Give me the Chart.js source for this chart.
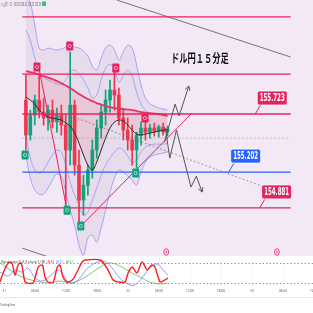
<!DOCTYPE html>
<html>
<head>
<meta charset="utf-8">
<script src="https://cdn.jsdelivr.net/npm/chart.js@4.4.1/dist/chart.umd.min.js"></script>
<style>
html, body { margin: 0; padding: 0; width: 313px; height: 313px; overflow: hidden; background: #fff; }
canvas { position: absolute; left: 0; }
#main { top: 0; }
#osc { top: 256px; }
</style>
</head>
<body>
<canvas id="main" width="313" height="256"></canvas>
<canvas id="osc" width="313" height="57"></canvas>
<script>
// hourly candles, hour 0 = day 21 00:00
var candleHours = [0,1,2,3,4,5,6,7,8,9,10,11,12,13,14,15,16,17,18,19,20,21,22,23,24,25,26,27,28,29,30,31,32];
var openP  = [155.848,155.534,155.713,155.848,155.740,155.687,155.758,155.651,155.713,155.624,155.400,155.803,155.265,154.951,155.085,155.220,155.400,155.597,155.740,155.848,155.938,155.893,155.687,155.579,155.489,155.400,155.534,155.597,155.561,155.597,155.570,155.606,155.561];
var highP  = [156.072,155.758,155.893,156.072,155.866,155.803,155.848,155.776,155.803,155.713,156.279,155.848,155.400,155.175,155.265,155.489,155.669,155.803,155.938,156.027,156.099,155.956,155.776,155.687,155.624,155.561,155.651,155.669,155.633,155.642,155.624,155.642,155.615];
var lowP   = [155.400,155.489,155.624,155.687,155.624,155.579,155.597,155.561,155.534,154.888,155.265,155.175,154.754,154.816,154.996,155.148,155.328,155.507,155.624,155.740,155.758,155.624,155.489,155.400,155.265,155.238,155.444,155.489,155.507,155.525,155.516,155.534,155.525];
var closeP = [155.534,155.713,155.848,155.740,155.687,155.758,155.651,155.713,155.624,155.400,155.803,155.265,154.951,155.085,155.220,155.400,155.597,155.740,155.848,155.938,155.893,155.687,155.579,155.489,155.400,155.534,155.597,155.561,155.597,155.570,155.606,155.561,155.588];

// bands and moving averages (same hours as candles)
var bandU2 = [156.790,156.718,156.521,156.314,156.297,156.314,156.305,156.297,156.305,156.323,156.341,156.323,156.314,156.288,156.243,156.153,156.117,156.225,156.314,156.341,156.297,156.207,156.279,156.341,156.314,156.162,155.983,155.866,155.812,155.794,155.776,155.767,155.758];
var bandU1 = [156.476,156.386,156.225,156.099,156.045,156.027,156.009,155.992,155.992,156.027,156.099,156.117,156.081,156.027,155.956,155.866,155.893,156.027,156.135,156.171,156.117,156.009,156.063,156.117,156.063,155.920,155.812,155.758,155.731,155.723,155.723,155.723,155.713];
var bandL1 = [155.534,155.328,155.220,155.193,155.220,155.292,155.355,155.400,155.382,155.265,155.112,154.996,154.906,154.816,154.843,154.951,155.059,155.175,155.265,155.328,155.382,155.417,155.400,155.346,155.292,155.310,155.382,155.426,155.444,155.453,155.453,155.453,155.462];
var bandL2 = [155.355,155.148,155.041,155.005,155.005,155.059,155.131,155.184,155.166,155.023,154.861,154.727,154.547,154.458,154.610,154.637,154.574,154.700,154.861,155.023,155.148,155.220,155.202,155.166,155.131,155.085,155.202,155.292,155.337,155.355,155.364,155.373,155.382];
var maBlack = [155.875,155.848,155.812,155.758,155.723,155.696,155.687,155.678,155.669,155.642,155.615,155.552,155.462,155.355,155.265,155.220,155.292,155.400,155.507,155.597,155.651,155.669,155.660,155.624,155.579,155.543,155.534,155.543,155.552,155.561,155.570,155.579,155.579];
var maRed = [156.108,156.099,156.090,156.077,156.063,156.050,156.036,156.018,156.000,155.978,155.956,155.929,155.902,155.879,155.857,155.839,155.821,155.808,155.794,155.785,155.776,155.772,155.767,155.763,155.758,155.749,155.740,155.736,155.731,155.727,155.723,155.713,155.705];

// drawings
var pinkLevels = [156.593, 156.081, 155.723, 154.881];
var blueLevel = 155.202;
var dottedLevel = 155.507;
var trendAHours = [12.4, 37.5], trendAPrices = [154.718, 155.731];
var trendBHours = [2.9, 9.3], trendBPrices = [156.144, 154.861];
var greyTopHours = [20.5, 59.8], greyTopPrices = [156.745, 156.234];
var greyLowHours = [-0.8, 5.0], greyLowPrices = [154.520, 154.443];
var greyDotHours = [10.8, 59.8], greyDotPrices = [155.696, 154.982];
var arrowUpHours = [31.3, 33.7, 34.6, 36.8], arrowUpPrices = [155.471, 155.812, 155.705, 155.974];
var arrowDownHours = [31.5, 32.5, 34.0, 37.3, 38.5, 39.8], arrowDownPrices = [155.597, 155.328, 155.579, 155.068, 155.166, 155.023];
var sellMarkHours = [2.5, 9.9, 20.3, 26.9], sellMarkPrices = [156.144, 156.332, 156.135, 155.687];
var buyMarkHours = [-0.2, 9.3, 12.4, 24.8], buyMarkPrices = [155.355, 154.861, 154.718, 155.193];
var labelTexts = ['155.723', '155.202', '154.881'];
var labelPrices = [155.723, 155.202, 154.881];
var labelHours = [51.8, 45.8, 52.8];
var titleText = 'ドル円１５分足', titleHour = 39.3, titlePrice = 156.225;
var eventHours = [31.7, 56.7];

// oscillator
var oscRedHours = [-0.8,-0.2,0.8,1.5,2.1,2.7,3.3,3.7,4.1,5.6,6.6,7.4,7.9,8.5,9.5,10.3,10.8,11.4,12.2,13.2,14.1,15.1,15.7,18.6,19.9,21.1,22.1,23.4,24.0,24.8,25.7,26.7,27.7,28.6,29.2,30.2,31.1,31.7];
var oscRed = [23,50,80,80,44,74,80,50,23,20,68,74,38,23,23,68,74,38,23,29,53,83,89,89,65,29,23,23,50,68,50,83,59,74,68,23,29,35];
var oscBlueHours = [-0.8,0.8,2.1,3.5,4.6,6.0,7.4,8.9,10.4,11.4,12.8,14.3,16.2,18.2,19.7,20.9,22.4,24.0,25.3,26.7,28.2,29.6,30.8,31.7];
var oscBlue = [53,41,59,53,65,35,26,41,59,44,20,29,65,83,83,65,35,17,14,35,65,77,59,44];
var oscGreenHours = [-0.8,1.2,3.1,6.0,8.9,10.8,12.8,14.7,16.6,18.6,20.5,22.4,24.4,26.3,28.2,30.2,31.7];
var oscGreen = [80,59,41,26,20,26,20,29,47,68,80,71,53,38,23,17,20];
var oscLevels = [80, 20];

var tickHours = [0,6,12,18,24,30,36,42,48,54,60];
var tickLabels = ['21','06:00','12:00','18:00','22','06:00','12:00','18:00','23','06:00','12:00'];

var GREEN = '#11a17b', RED = '#f0364f', PINK = '#e4245f', BLUE = '#2962ff';

var pts = function(hs, vs) {
	return hs.map(function(h, i) { return {x: h, y: vs[i]}; });
};
var flat = function(v) {
	return [{x: -0.8, y: v}, {x: 59.8, y: v}];
};
var lineDs = function(data, color, width, order, extra) {
	var ds = {type: 'line', data: data, borderColor: color, borderWidth: width, pointRadius: 0, tension: 0, fill: false, order: order};
	for (var k in extra) ds[k] = extra[k];
	return ds;
};

var fitText = function(c, text, x, y, w, font, color, align) {
	c.save();
	c.font = font;
	var m = c.measureText(text).width;
	c.translate(x, y);
	c.scale(w / m, 1);
	c.fillStyle = color;
	c.textAlign = align || 'center';
	c.textBaseline = 'middle';
	c.fillText(text, 0, 0);
	c.restore();
};

var box = function(c, x, y, w, h, r) {
	c.beginPath();
	if (c.roundRect) c.roundRect(x, y, w, h, r); else c.rect(x, y, w, h);
};

var mainDraw = {
	id: 'mainDraw',
	beforeDraw: function(chart) {
		var c = chart.ctx;
		c.save();
		c.fillStyle = '#f3e8f5';
		c.fillRect(0, 0, chart.width, chart.height);
		c.restore();
	},
	afterDatasetsDraw: function(chart) {
		var c = chart.ctx, xs = chart.scales.x, ys = chart.scales.y;
		c.save();
		// arrow heads
		[[arrowUpHours, arrowUpPrices], [arrowDownHours, arrowDownPrices]].forEach(function(a) {
			var n = a[0].length;
			var x1 = xs.getPixelForValue(a[0][n - 2]), y1 = ys.getPixelForValue(a[1][n - 2]);
			var x2 = xs.getPixelForValue(a[0][n - 1]), y2 = ys.getPixelForValue(a[1][n - 1]);
			var ang = Math.atan2(y2 - y1, x2 - x1);
			c.strokeStyle = '#555';
			c.lineWidth = 1;
			c.beginPath();
			c.moveTo(x2 - 5 * Math.cos(ang - 0.5), y2 - 5 * Math.sin(ang - 0.5));
			c.lineTo(x2, y2);
			c.lineTo(x2 - 5 * Math.cos(ang + 0.5), y2 - 5 * Math.sin(ang + 0.5));
			c.stroke();
		});
		// signal markers
		var mark = function(hs, ps, color) {
			hs.forEach(function(h, i) {
				var px = xs.getPixelForValue(h), py = ys.getPixelForValue(ps[i]);
				c.fillStyle = color;
				box(c, px - 3.5, py - 4.5, 7, 9, 1);
				c.fill();
				c.strokeStyle = 'rgba(255,255,255,0.8)';
				c.lineWidth = 0.7;
				c.beginPath();
				c.arc(px, py, 1.6, 0, Math.PI * 2);
				c.stroke();
			});
		};
		mark(sellMarkHours, sellMarkPrices, PINK);
		mark(buyMarkHours, buyMarkPrices, GREEN);
		// price callouts
		labelTexts.forEach(function(t, i) {
			var ax = xs.getPixelForValue(labelHours[i]), ay = ys.getPixelForValue(labelPrices[i]);
			var col = i === 1 ? BLUE : PINK;
			var bx = ax + 2, by = ay - 23;
			c.strokeStyle = col;
			c.lineWidth = 1;
			c.beginPath();
			c.moveTo(bx + 4, by + 13);
			c.lineTo(ax, ay);
			c.stroke();
			c.fillStyle = col;
			box(c, bx, by, 30, 14, 2);
			c.fill();
			c.strokeStyle = '#fff';
			c.lineWidth = 0.8;
			c.stroke();
			fitText(c, t, bx + 15, by + 7.5, 25, 'bold 10px "DejaVu Sans Condensed", "DejaVu Sans", sans-serif', '#fff');
		});
		// title
		fitText(c, titleText, xs.getPixelForValue(titleHour), ys.getPixelForValue(titlePrice), 58,
			'bold 12px "Noto Sans CJK JP", sans-serif', '#111');
		// event pins
		eventHours.forEach(function(h) {
			var px = xs.getPixelForValue(h), py = chart.chartArea.bottom - 4;
			c.strokeStyle = PINK;
			c.lineWidth = 0.8;
			c.beginPath();
			c.ellipse(px, py, 2.4, 3.3, 0, 0, Math.PI * 2);
			c.stroke();
			c.fillStyle = PINK;
			c.fillRect(px - 0.5, py - 1.2, 1, 2.4);
		});
		// header
		fitText(c, 'ドル円 · 15 · 155.59 155.61 155.52 155.58', 1, 4, 40, '5px "Noto Sans CJK JP", sans-serif', '#555', 'left');
		c.fillStyle = '#3cc46e';
		c.fillRect(42, 1.5, 4, 4.5);
		c.restore();
	}
};

var mainCfg = {
	type: 'line',
	data: {
		datasets: [
			lineDs(pts(candleHours, bandU2), 'rgba(120,120,255,0.75)', 0.8, 20, {fill: 3, backgroundColor: 'rgba(125,115,150,0.10)', tension: 0.35}),
			lineDs(pts(candleHours, bandU1), 'rgba(120,120,255,0.7)', 0.8, 19, {tension: 0.35}),
			lineDs(pts(candleHours, bandL1), 'rgba(120,120,255,0.7)', 0.8, 19, {tension: 0.35}),
			lineDs(pts(candleHours, bandL2), 'rgba(120,120,255,0.75)', 0.8, 19, {tension: 0.35}),
			lineDs(pts(candleHours, maBlack), 'rgba(0,0,0,0)', 0, 18, {fill: 5, backgroundColor: 'rgba(240,70,100,0.13)', tension: 0.35}),
			lineDs(pts(candleHours, maRed), '#e8325f', 1.8, 2, {tension: 0.35}),
			lineDs(pts(candleHours, maBlack), '#2a2a2a', 1, 3, {tension: 0.35}),
			{
				type: 'bar', order: 5, grouped: false, barThickness: 1,
				data: candleHours.map(function(h, i) { return {x: h, y: [lowP[i], highP[i]]}; }),
				backgroundColor: function(ctx) { return closeP[ctx.dataIndex] >= openP[ctx.dataIndex] ? GREEN : RED; }
			},
			{
				type: 'bar', order: 4, grouped: false, barThickness: 3,
				data: candleHours.map(function(h, i) { return {x: h, y: [openP[i], closeP[i]]}; }),
				backgroundColor: function(ctx) { return closeP[ctx.dataIndex] >= openP[ctx.dataIndex] ? GREEN : RED; }
			},
			lineDs(flat(pinkLevels[0]), PINK, 1.3, 1),
			lineDs(flat(pinkLevels[1]), PINK, 1.3, 1),
			lineDs(flat(pinkLevels[2]), PINK, 1.3, 1),
			lineDs(flat(pinkLevels[3]), PINK, 1.3, 1),
			lineDs(flat(blueLevel), BLUE, 1.3, 1),
			lineDs(flat(dottedLevel), 'rgba(120,120,120,0.5)', 0.8, 1, {borderDash: [2, 2]}),
			lineDs(pts(trendAHours, trendAPrices), PINK, 1, 1),
			lineDs(pts(trendBHours, trendBPrices), PINK, 1, 1),
			lineDs(pts(greyTopHours, greyTopPrices), '#666', 0.9, 1),
			lineDs(pts(greyLowHours, greyLowPrices), '#666', 0.9, 1),
			lineDs(pts(greyDotHours, greyDotPrices), 'rgba(90,90,90,0.7)', 0.8, 1, {borderDash: [2, 2]}),
			lineDs(pts(arrowUpHours, arrowUpPrices), '#555', 1, 0),
			lineDs(pts(arrowDownHours, arrowDownPrices), '#555', 1, 0)
		]
	},
	options: {
		responsive: false,
		animation: false,
		events: [],
		layout: {padding: 0},
		plugins: {legend: {display: false}, tooltip: {enabled: false}},
		scales: {
			x: {type: 'linear', min: -0.8, max: 59.8, display: false},
			y: {type: 'linear', min: 154.45, max: 156.745, display: false}
		}
	},
	plugins: [mainDraw]
};

var oscDraw = {
	id: 'oscDraw',
	beforeDraw: function(chart) {
		var c = chart.ctx;
		c.save();
		c.fillStyle = '#fff';
		c.fillRect(0, 0, chart.width, chart.height);
		c.restore();
	},
	beforeDatasetsDraw: function(chart) {
		var c = chart.ctx, xs = chart.scales.x, ys = chart.scales.y, a = chart.chartArea;
		c.save();
		c.strokeStyle = 'rgba(0,0,0,0.04)';
		c.lineWidth = 1;
		tickHours.forEach(function(h) {
			var px = Math.round(xs.getPixelForValue(h)) + 0.5;
			c.beginPath();
			c.moveTo(px, a.top);
			c.lineTo(px, a.bottom);
			c.stroke();
		});
		c.strokeStyle = '#9a9a9a';
		c.setLineDash([1.5, 2]);
		oscLevels.forEach(function(v) {
			var py = Math.round(ys.getPixelForValue(v)) + 0.5;
			c.beginPath();
			c.moveTo(a.left, py);
			c.lineTo(a.right, py);
			c.stroke();
		});
		c.restore();
	},
	afterDraw: function(chart) {
		var c = chart.ctx, xs = chart.scales.x;
		c.save();
		tickLabels.forEach(function(t, i) {
			var w = t.length > 2 ? 8 : 3.5;
			fitText(c, t, xs.getPixelForValue(tickHours[i]), 35, w, '4px "Noto Sans", sans-serif', '#555');
		});
		c.strokeStyle = '#e6e6e6';
		c.lineWidth = 1;
		c.beginPath();
		c.moveTo(0, 41.5);
		c.lineTo(chart.width, 41.5);
		c.stroke();
		fitText(c, 'Stochastic 5 3 3 close 1 (R)', 1, 6, 44, '4px "Noto Sans", sans-serif', '#444', 'left');
		fitText(c, '48.83', 47, 6, 7, '4px "Noto Sans", sans-serif', '#ff2a2a', 'left');
		fitText(c, '36.72', 56, 6, 7, '4px "Noto Sans", sans-serif', '#6b6bff', 'left');
		fitText(c, '46.57', 66, 6, 7, '4px "Noto Sans", sans-serif', '#3aa53a', 'left');
		fitText(c, 'TradingView', 0, 49, 15, '4px "Noto Sans", sans-serif', '#555', 'left');
		c.restore();
	}
};

var oscCfg = {
	type: 'line',
	data: {
		datasets: [
			lineDs(pts(oscGreenHours, oscGreen), 'rgba(90,180,90,0.85)', 0.9, 3, {tension: 0.4}),
			lineDs(pts(oscBlueHours, oscBlue), 'rgba(110,110,255,0.8)', 0.9, 2, {tension: 0.4}),
			lineDs(pts(oscRedHours, oscRed), '#ff1e1e', 1.4, 1, {tension: 0.25})
		]
	},
	options: {
		responsive: false,
		animation: false,
		events: [],
		layout: {padding: {top: 0, bottom: 26, left: 0, right: 0}},
		plugins: {legend: {display: false}, tooltip: {enabled: false}},
		scales: {
			x: {type: 'linear', min: -0.8, max: 59.8, display: false},
			y: {type: 'linear', min: 8, max: 101, display: false}
		}
	},
	plugins: [oscDraw]
};

new Chart(document.getElementById('main'), mainCfg);
new Chart(document.getElementById('osc'), oscCfg);
</script>
</body>
</html>
